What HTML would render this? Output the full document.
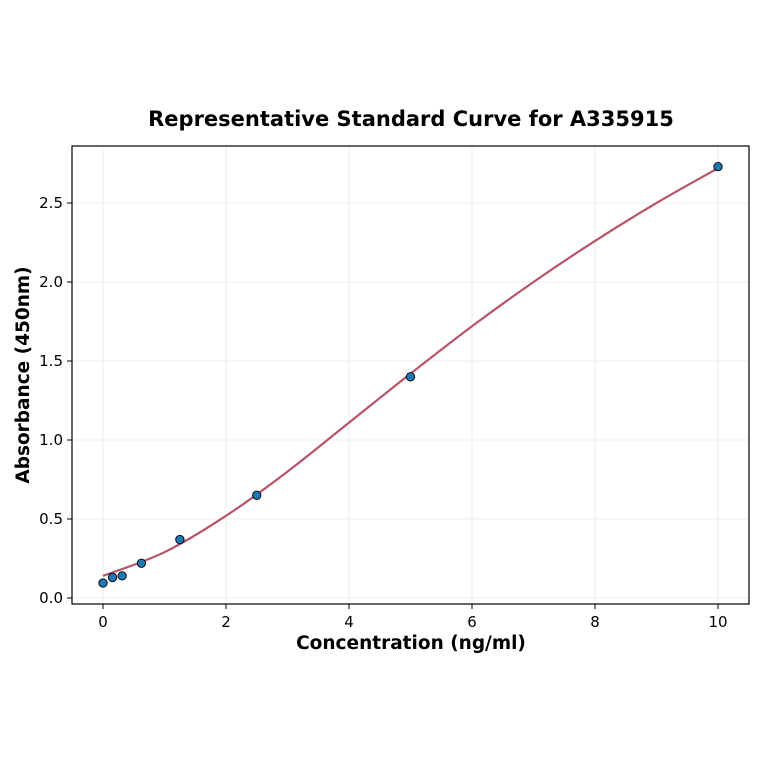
<!DOCTYPE html>
<html><head><meta charset="utf-8"><style>
html,body{margin:0;padding:0;background:#fff;}
svg{display:block;font-family:"DejaVu Sans","Liberation Sans",sans-serif;}
</style></head><body>
<svg id="chart" width="764" height="764" viewBox="0 0 764 764">
<rect width="764" height="764" fill="#fff"/>
<text x="411" y="126" text-anchor="middle" font-size="21" font-weight="bold" fill="#000">Representative Standard Curve for A335915</text>
<g id="grid"></g>
<g id="curve"></g>
<g id="points"></g>
<rect x="72" y="146" width="677" height="458" fill="none" stroke="#000" stroke-width="1.2"/>
<g id="axes"></g>
<text x="411" y="649" text-anchor="middle" font-size="18.5" font-weight="bold">Concentration (ng/ml)</text>
<text transform="translate(29,375) rotate(-90)" text-anchor="middle" font-size="18.5" font-weight="bold">Absorbance (450nm)</text>
</svg>
<script>
const xConc = [0, 0.156, 0.312, 0.625, 1.25, 2.5, 5, 10];
const yAbs = [0.095, 0.13, 0.14, 0.22, 0.37, 0.65, 1.40, 2.73];
const curveX = [0, 1, 2, 3, 4, 5, 6, 7, 8, 9, 10];
const curveY = [0.14, 0.29, 0.52, 0.80, 1.11, 1.42, 1.72, 2.00, 2.26, 2.50, 2.72];
const xTicks = [0, 2, 4, 6, 8, 10];
const yTicks = [0.0, 0.5, 1.0, 1.5, 2.0, 2.5];
const yTickLabels = ["0.0","0.5","1.0","1.5","2.0","2.5"];

const NS = "http://www.w3.org/2000/svg";
function sx(v){return 103 + v*61.5;}
function sy(v){return 598 - v*158;}
function mk(tag, attrs, parent){const e=document.createElementNS(NS,tag);for(const k in attrs)e.setAttribute(k,attrs[k]);parent.appendChild(e);return e;}
const grid=document.getElementById('grid'), axes=document.getElementById('axes');
xTicks.forEach(t=>{
  const g=mk('line',{x1:sx(t),x2:sx(t),y1:146,y2:604,stroke:'#e6e6e6','stroke-width':0.8},grid);
  
  
  const tk=mk('line',{x1:sx(t),x2:sx(t),y1:604,y2:609,stroke:'#000','stroke-width':1},axes);
  
  
  const tx=mk('text',{x:sx(t),y:627,'text-anchor':'middle','font-size':15},axes);
  tx.textContent=String(t);
  
  
});
yTicks.forEach((t,i)=>{
  const g=mk('line',{x1:72,x2:749,y1:sy(t),y2:sy(t),stroke:'#e6e6e6','stroke-width':0.8},grid);
  
  
  const tk=mk('line',{x1:67,x2:72,y1:sy(t),y2:sy(t),stroke:'#000','stroke-width':1},axes);
  
  
  const tx=mk('text',{x:63,y:sy(t)+5,'text-anchor':'end','font-size':15},axes);
  tx.textContent=yTickLabels[i];
  
  
});
const P=curveX.map((x,i)=>[sx(x),sy(curveY[i])]);
let d=`M${P[0][0]},${P[0][1]}`;
for(let i=0;i<P.length-1;i++){
  const p0=P[Math.max(0,i-1)],p1=P[i],p2=P[i+1],p3=P[Math.min(P.length-1,i+2)];
  const c1=[p1[0]+(p2[0]-p0[0])/6,p1[1]+(p2[1]-p0[1])/6];
  const c2=[p2[0]-(p3[0]-p1[0])/6,p2[1]-(p3[1]-p1[1])/6];
  d+=` C${c1[0]},${c1[1]} ${c2[0]},${c2[1]} ${p2[0]},${p2[1]}`;
}
const path=mk('path',{d:d,fill:'none',stroke:'#b85468','stroke-width':2.2},document.getElementById('curve'));


xConc.forEach((x,i)=>{
  const c=mk('circle',{cx:sx(x),cy:sy(yAbs[i]),r:4.2,fill:'#1f77b4',stroke:'#000','stroke-width':0.9},document.getElementById('points'));
  
  
});
</script>
</body></html>
